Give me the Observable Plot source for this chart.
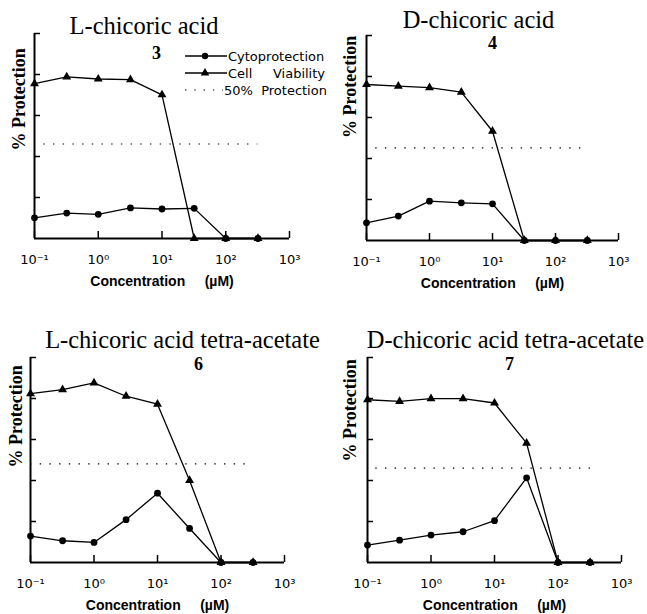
<!DOCTYPE html>
<html><head><meta charset="utf-8">
<script src="https://cdn.jsdelivr.net/npm/d3@7"></script>
<script src="https://cdn.jsdelivr.net/npm/@observablehq/plot@0.6"></script>
<style>
html,body{margin:0;padding:0;background:#fff;}
#root{position:relative;width:647px;height:614px;overflow:hidden;background:#fff;}
.panel{position:absolute;}
</style></head><body><div id="root"></div>
<script>
// ---- data ----
const concentrations = [0.1, 0.32, 1, 3.2, 10, 32, 100, 320];
const panelTitles = ["L-chicoric acid", "D-chicoric acid", "L-chicoric acid tetra-acetate", "D-chicoric acid tetra-acetate"];
const compoundNumbers = ["3", "4", "6", "7"];

const cytoprotection3 = [10.1, 12.4, 11.8, 14.9, 14.4, 14.7, 0, 0];
const viability3      = [75.5, 78.8, 77.8, 77.5, 70.1, 0, 0, 0];
const cytoprotection4 = [8.6, 11.9, 19.2, 18.4, 17.9, 0, 0, 0];
const viability4      = [76.1, 75.3, 74.6, 72.4, 53.3, 0, 0, 0];
const cytoprotection6 = [12.9, 10.6, 9.8, 20.9, 33.8, 16.6, 0, 0];
const viability6      = [82.4, 84.3, 87.6, 81.1, 77.2, 40.0, 0, 0];
const cytoprotection7 = [8.5, 10.9, 13.4, 15.0, 20.4, 41.3, 0, 0];
const viability7      = [79.4, 78.6, 79.9, 79.9, 77.8, 58.2, 0, 0];

const protection50 = [46.1, 45.2, 48.1, 46.0];
const dottedStart = [0.14, 0.14, 0.1, 0.135];
const dottedEnd = [320, 330, 325, 325];

const xTicks = [0.1, 1, 10, 100, 1000];
const xTickLabels = ["10\u207B\u00B9", "10\u2070", "10\u00B9", "10\u00B2", "10\u00B3"];
const yTicks = [20, 40, 60, 80, 100];
const xDomain = [0.1, 1000];
const yDomain = [0, 100];
const xAxisLabel = "Concentration\u00a0\u00a0\u00a0\u00a0\u00a0(\u00b5M)";
const yAxisLabel = "% Protection";
const legendLabels = ["Cytoprotection", "Cell\u00a0\u00a0\u00a0\u00a0\u00a0Viability", "50%\u00a0\u00a0Protection"];

const cytoSeries = [cytoprotection3, cytoprotection4, cytoprotection6, cytoprotection7];
const viabilitySeries = [viability3, viability4, viability6, viability7];

// ---- layout ----
const layout = [
  {left:0,   top:0,   width:327, height:295, mt:33, mr:38, mb:57, ml:34, tDx:-18, tDy:0,   nDx:-5.5, nDy:25, yDx:-15, yDy:14.5},
  {left:327, top:0,   width:320, height:295, mt:35, mr:29, mb:55, ml:39, tDx:-14, tDy:-8,  nDx:0,    nDy:13, yDx:-16, yDy:0},
  {left:0,   top:300, width:327, height:314, mt:57, mr:43, mb:52, ml:30, tDx:25,  tDy:-10, nDx:41,   nDy:12, yDx:-14, yDy:7.5},
  {left:327, top:300, width:320, height:314, mt:57, mr:26, mb:52, ml:40, tDx:11,  tDy:-10, nDx:15,   nDy:12, yDx:-17, yDy:1.5}
];
const xTickPx = 7, yTickPx = 6;

const root = document.getElementById("root");
const serif = "'Liberation Serif', 'Times New Roman', serif";
const sans = "'DejaVu Sans', sans-serif";
const sansBold = "'Liberation Sans', Arial, sans-serif";

function makePanel(i) {
  const L = layout[i];
  const plotW = L.width - L.ml - L.mr, plotH = L.height - L.mt - L.mb;
  const decades = Math.log10(xDomain[1] / xDomain[0]);
  const xTickLen = xTickPx / plotH * (yDomain[1] - yDomain[0]);
  const yTickEnd = xDomain[0] * Math.pow(10, yTickPx / (plotW / decades));
  const cyto = concentrations.map((c, j) => ({c, v: cytoSeries[i][j]}));
  const via = concentrations.map((c, j) => ({c, v: viabilitySeries[i][j]}));
  const dotted = [{y: protection50[i], x1: dottedStart[i], x2: dottedEnd[i]}];
  return Plot.plot({
    width: L.width, height: L.height,
    marginTop: L.mt, marginRight: L.mr, marginBottom: L.mb, marginLeft: L.ml,
    x: {type: "log", domain: xDomain},
    y: {domain: yDomain},
    style: {background: "transparent", overflow: "visible", maxWidth: "none", color: "black"},
    marks: [
      Plot.axisX({ticks: xTicks, tickFormat: d => xTickLabels[xTicks.indexOf(d)], tickSize: 0, tickPadding: 16,
        fontSize: 13, fontFamily: sans, fill: "black", label: null}),
      Plot.axisY({ticks: [], label: null}),
      Plot.ruleX(xTicks, {y1: yDomain[0], y2: yDomain[0] + xTickLen, stroke: "black", strokeWidth: 1.5}),
      Plot.ruleY(yTicks, {x1: xDomain[0], x2: yTickEnd, stroke: "black", strokeWidth: 1.5}),
      Plot.ruleY([yDomain[0]], {stroke: "black", strokeWidth: 2}),
      Plot.ruleX([xDomain[0]], {y1: yDomain[0], y2: yDomain[1], stroke: "black", strokeWidth: 2}),
      Plot.ruleY(dotted, {y: "y", x1: "x1", x2: "x2", stroke: "black", strokeWidth: 1.2, strokeDasharray: "1.4,8.3"}),
      Plot.line(via, {x: "c", y: "v", stroke: "black", strokeWidth: 1.3}),
      Plot.line(cyto, {x: "c", y: "v", stroke: "black", strokeWidth: 1.3}),
      Plot.dot(via, {x: "c", y: "v", symbol: "triangle", r: 3.3, fill: "black", stroke: null}),
      Plot.dot(cyto, {x: "c", y: "v", symbol: "circle", r: 3.4, fill: "black", stroke: null}),
      Plot.text([panelTitles[i]], {frameAnchor: "top", text: d => d, dx: L.tDx, dy: L.tDy, lineAnchor: "bottom",
        fontSize: 24.5, fontFamily: serif, fill: "black"}),
      Plot.text([compoundNumbers[i]], {frameAnchor: "top", text: d => d, dx: L.nDx, dy: L.nDy, lineAnchor: "bottom",
        fontSize: 18, fontWeight: "bold", fontFamily: serif, fill: "black"}),
      Plot.text([yAxisLabel], {frameAnchor: "left", text: d => d, rotate: -90, dx: L.yDx, dy: L.yDy,
        fontSize: 18, fontWeight: "bold", fontFamily: serif, fill: "black"}),
      Plot.text([xAxisLabel], {frameAnchor: "bottom", text: d => d, dy: 47, lineAnchor: "bottom",
        fontSize: 14, fontWeight: "bold", fontFamily: sansBold, fill: "black"})
    ]
  });
}

layout.forEach((L, i) => {
  const div = document.createElement("div");
  div.className = "panel";
  div.style.left = L.left + "px";
  div.style.top = L.top + "px";
  div.appendChild(makePanel(i));
  root.appendChild(div);
});

// ---- legend (top-left panel) ----
const legend = d3.create("svg")
  .attr("width", 340).attr("height", 100)
  .style("position", "absolute").style("left", "0px").style("top", "0px").style("overflow", "visible");
const rowY = [56, 73, 90];
const lx1 = 185, lx2 = 227, lxm = 205, tx = 228;
legend.append("line").attr("x1", lx1).attr("x2", lx2).attr("y1", rowY[0]).attr("y2", rowY[0]).attr("stroke", "black").attr("stroke-width", 1.3);
legend.append("circle").attr("cx", lxm).attr("cy", rowY[0]).attr("r", 3.2).attr("fill", "black");
legend.append("line").attr("x1", lx1).attr("x2", lx2).attr("y1", rowY[1]).attr("y2", rowY[1]).attr("stroke", "black").attr("stroke-width", 1.3);
legend.append("path").attr("d", d3.symbol(d3.symbolTriangle, Math.PI * 3.2 * 3.2)()).attr("transform", `translate(${lxm},${rowY[1]})`).attr("fill", "black");
legend.append("line").attr("x1", lx1).attr("x2", lx2 - 4).attr("y1", rowY[2]).attr("y2", rowY[2]).attr("stroke", "black").attr("stroke-width", 1.2).attr("stroke-dasharray", "1.4,7.9");
legendLabels.forEach((t, k) => {
  legend.append("text").attr("x", k === 2 ? tx - 4 : tx).attr("y", rowY[k] + 5)
    .attr("font-family", sans).attr("font-size", 13).attr("fill", "black").text(t);
});
root.appendChild(legend.node());
</script>
</body></html>
